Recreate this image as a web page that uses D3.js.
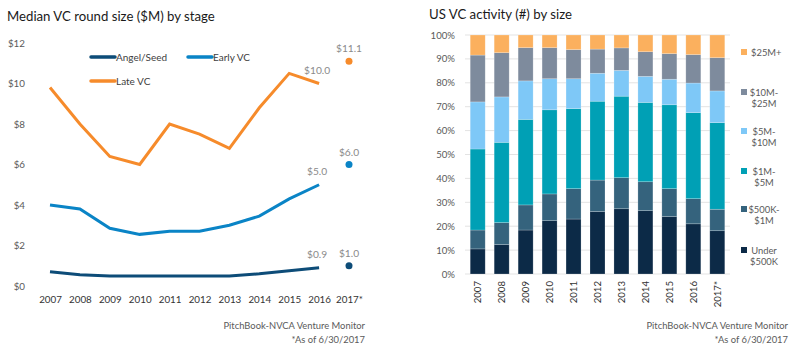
<!DOCTYPE html>
<html><head><meta charset="utf-8">
<script src="https://cdn.jsdelivr.net/npm/d3@7"></script>
<style>body{margin:0;background:#fff;}svg{display:block;font-family:Lato,"Open Sans",sans-serif;}</style>
</head><body>
<svg id="c" width="796" height="357"></svg>
<script>
// ---- Left chart data ----
const years = ["2007","2008","2009","2010","2011","2012","2013","2014","2015","2016"];
const yearLast = "2017*";
const angelSeed = [0.7,0.55,0.5,0.5,0.5,0.5,0.5,0.6,0.75,0.9];
const earlyVC   = [4.0,3.8,2.85,2.55,2.7,2.7,3.0,3.45,4.3,5.0];
const lateVC    = [9.8,8.0,6.4,6.0,8.0,7.5,6.8,8.8,10.5,10.0];
const last2017  = {angel:1.0, early:6.0, late:11.1};
const leftTicks = [0,2,4,6,8,10,12];

// ---- Right chart data ----
const barYears = ["2007","2008","2009","2010","2011","2012","2013","2014","2015","2016","2017*"];
const sizeKeys = ["Under $500K","$500K-$1M","$1M-$5M","$5M-$10M","$10M-$25M","$25M+"];
const under500K = [10.5,12.3,18.4,22.3,23.0,26.1,27.3,26.5,24.0,21.0,18.1];
const k500to1M  = [7.9,9.2,10.5,11.2,12.7,13.2,13.0,12.1,11.7,10.5,9.0];
const m1to5     = [33.9,33.6,35.8,35.2,33.5,33.0,34.1,33.2,35.1,36.0,36.2];
const m5to10    = [19.7,19.0,16.1,13.0,12.5,11.7,10.8,10.9,10.7,12.4,13.3];
const m10to25   = [19.6,18.5,13.9,13.0,12.2,10.1,9.4,10.3,10.7,11.9,13.9];
const m25plus   = [8.4,7.4,5.3,5.3,6.1,5.9,5.4,7.0,7.8,8.2,9.5];
const rightTicks = [0,10,20,30,40,50,60,70,80,90,100];

const svg = d3.select("#c");
const gray = "#5a5a5a", lblGray = "#8a8a8a";

// ===== LEFT =====
svg.append("text").attr("x",7).attr("y",21).attr("font-size",13.2).attr("fill","#1a1a1a")
  .text("Median VC round size ($M) by stage");

const xL = d3.scalePoint().domain([...years, yearLast]).range([50,349]);
const yL = d3.scaleLinear().domain([0,12]).range([286,43]);

const yAxL = svg.append("g").attr("transform","translate(25,0)")
  .call(d3.axisLeft(yL).tickValues(leftTicks).tickSize(0).tickPadding(0).tickFormat(d=>"$"+d));
yAxL.select(".domain").remove();
yAxL.selectAll("text").attr("font-size",9.8).attr("fill",gray).attr("font-family","Lato");

const xAxL = svg.append("g").attr("transform","translate(0,296)")
  .call(d3.axisBottom(xL).tickSize(0).tickPadding(0));
xAxL.select(".domain").remove();
xAxL.selectAll("text").attr("font-size",9.8).attr("fill","#333").attr("font-family","Lato").attr("dy","0.71em");

const series = [
  {name:"Angel/Seed", vals:angelSeed, last:last2017.angel, color:"#0d4c78"},
  {name:"Early VC", vals:earlyVC, last:last2017.early, color:"#0a84c6"},
  {name:"Late VC", vals:lateVC, last:last2017.late, color:"#f68b2b"}
];
const line = d3.line().x((d,i)=>xL(years[i])).y(d=>yL(d));
series.forEach(s=>{
  svg.append("path").datum(s.vals).attr("d",line).attr("fill","none")
    .attr("stroke",s.color).attr("stroke-width",3).attr("stroke-linejoin","miter");
  svg.append("circle").attr("cx",xL(yearLast)).attr("cy",yL(s.last)).attr("r",3.5).attr("fill",s.color);
  const lv = s.vals[s.vals.length-1];
  svg.append("text").attr("x",xL(years[years.length-1])-2).attr("y",yL(lv)-10)
    .attr("text-anchor","middle").attr("font-size",10.2).attr("fill",lblGray).text("$"+lv.toFixed(1));
  svg.append("text").attr("x",xL(yearLast)).attr("y",yL(s.last)-9)
    .attr("text-anchor","middle").attr("font-size",10.2).attr("fill",lblGray).text("$"+s.last.toFixed(1));
});

// legend left
const legL = [{s:series[0],x:91,y:57},{s:series[1],x:188,y:57},{s:series[2],x:91,y:81}];
legL.forEach(l=>{
  svg.append("line").attr("x1",l.x).attr("x2",l.x+24).attr("y1",l.y).attr("y2",l.y)
    .attr("stroke",l.s.color).attr("stroke-width",3.5).attr("stroke-linecap","round");
  svg.append("text").attr("x",l.x+25).attr("y",l.y+3.5).attr("font-size",10).attr("fill","#404040").text(l.s.name);
});

svg.append("text").attr("x",365).attr("y",329).attr("text-anchor","end").attr("font-size",9.4).attr("fill",gray)
  .text("PitchBook-NVCA Venture Monitor");
svg.append("text").attr("x",365).attr("y",342.5).attr("text-anchor","end").attr("font-size",9.4).attr("fill",gray)
  .text("*As of 6/30/2017");

// ===== RIGHT =====
svg.append("text").attr("x",429).attr("y",19).attr("font-size",13.2).attr("fill","#1a1a1a")
  .text("US VC activity (#) by size");

const xR = d3.scaleBand().domain(barYears).range([465,730]).paddingInner(0.374).paddingOuter(0.217);
const yR = d3.scaleLinear().domain([0,100]).range([274,35]);

svg.append("g").selectAll("line").data(rightTicks).join("line")
  .attr("x1",465).attr("x2",730).attr("y1",d=>yR(d)).attr("y2",d=>yR(d))
  .attr("stroke","#e3e3e3").attr("stroke-width",1);

const yAxR = svg.append("g").attr("transform","translate(455,0)")
  .call(d3.axisLeft(yR).tickValues(rightTicks).tickSize(0).tickPadding(0).tickFormat(d=>d+"%"));
yAxR.select(".domain").remove();
yAxR.selectAll("text").attr("font-size",9.6).attr("fill",gray).attr("font-family","Lato");

const table = barYears.map((y,i)=>({year:y,
  "Under $500K":under500K[i],"$500K-$1M":k500to1M[i],"$1M-$5M":m1to5[i],
  "$5M-$10M":m5to10[i],"$10M-$25M":m10to25[i],"$25M+":m25plus[i]}));
// normalise to 100
table.forEach(r=>{const t=d3.sum(sizeKeys,k=>r[k]); sizeKeys.forEach(k=>r[k]=r[k]*100/t);});
const stacked = d3.stack().keys(sizeKeys)(table);
const colR = d3.scaleOrdinal().domain(sizeKeys)
  .range(["#0c2a47","#35637d","#00a0b5","#7ec8f7","#7e8b9d","#fbb05e"]);

svg.append("g").selectAll("g").data(stacked).join("g").attr("fill",d=>colR(d.key))
  .selectAll("rect").data(d=>d).join("rect")
  .attr("x",d=>xR(d.data.year)).attr("width",xR.bandwidth())
  .attr("y",d=>yR(d[1])).attr("height",d=>yR(d[0])-yR(d[1]))
  .attr("stroke","rgba(255,255,255,0.35)").attr("stroke-width",0.6);

const xAxR = svg.append("g").attr("transform","translate(0,279)")
  .call(d3.axisBottom(xR).tickSize(0).tickPadding(0));
xAxR.select(".domain").remove();
xAxR.selectAll(".tick text").attr("font-size",9.6).attr("fill","#333").attr("font-family","Lato")
  .attr("transform","rotate(-90)").attr("text-anchor","end").attr("x",-2).attr("y",0).attr("dy","0.35em");

// legend right
const legR = [
  {k:"$25M+",l:["$25M+"],y:52},
  {k:"$10M-$25M",l:["$10M-","$25M"],y:92},
  {k:"$5M-$10M",l:["$5M-","$10M"],y:131},
  {k:"$1M-$5M",l:["$1M-","$5M"],y:171},
  {k:"$500K-$1M",l:["$500K-","$1M"],y:209},
  {k:"Under $500K",l:["Under","$500K"],y:250}
];
legR.forEach(d=>{
  svg.append("rect").attr("x",741).attr("y",d.y-3).attr("width",6).attr("height",6).attr("fill",colR(d.k));
  if(d.l.length===1){
    svg.append("text").attr("x",751).attr("y",d.y+3.5).attr("font-size",9.4).attr("fill",gray).text(d.l[0]);
  } else {
    d.l.forEach((t,j)=>svg.append("text").attr("x",764).attr("y",d.y+3.5+j*11).attr("text-anchor","middle")
      .attr("font-size",9.4).attr("fill",gray).text(t));
  }
});

svg.append("text").attr("x",788).attr("y",329).attr("text-anchor","end").attr("font-size",9.4).attr("fill",gray)
  .text("PitchBook-NVCA Venture Monitor");
svg.append("text").attr("x",788).attr("y",342.5).attr("text-anchor","end").attr("font-size",9.4).attr("fill",gray)
  .text("*As of 6/30/2017");
</script>
</body></html>
